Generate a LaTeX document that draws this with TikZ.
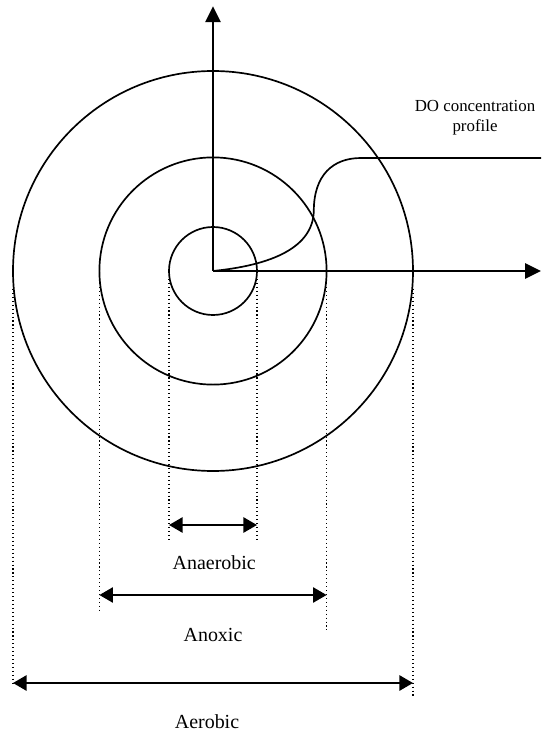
\documentclass[tikz,border=0pt]{standalone}
\usepackage{fontspec}
\setmainfont{Liberation Serif}
\usetikzlibrary{arrows.meta}
\tikzset{
	ring/.style={line width=1.2pt},
	axis/.style={line width=1.5pt, -{Triangle[length=4mm,width=3.8mm]}},
	zone/.style={line width=1.5pt, {Triangle[length=3.4mm,width=3.8mm]}-{Triangle[length=3.4mm,width=3.8mm]}},
	guide/.style={dotted, line width=0.8pt},
	lbl/.style={font=\fontsize{14.2}{17}\selectfont}
}
\begin{document}
\begin{tikzpicture}
		\useasboundingbox (-5.325,-11.525) rectangle (8.225,6.775);
		\coordinate (o) at (0,0);
		% floc layers
		\draw[ring] (o) circle (5);
		\draw[ring] (o) circle (2.84);
		\draw[ring] (o) circle (1.1);
		% axes
		\coordinate (ytop) at (0,6.62);
		\coordinate (xend) at (8.2,0);
		\draw[axis] (o) -- (ytop);
		\draw[axis] (o) -- (xend);
		% DO profile
		\coordinate (bend) at (2.52,1.5);
		\coordinate (knee) at (3.7,2.825);
		\coordinate (pend) at (8.2,2.825);
		\draw[ring] (o) .. controls (1.5,0.15) and (2.5,0.6) .. (bend) .. controls (2.52,2.4) and (3,2.825) .. (knee) -- (pend);
		\node[align=center, font=\fontsize{12}{14.2}\selectfont] (doprof) at (6.55,3.83) {DO concentration\\profile};
		%
		\foreach \r/\lft/\rgt/\ya/\top/\name in {1.1/-6.775/-6.775/-6.35/-0.2/anaer, 2.84/-8.525/-8.975/-8.1/-0.3/anox, 5/-10.3/-10.675/-10.3/-0.45/aer}{
			\draw[guide] (-\r,\top) -- (-\r,\lft);
			\draw[guide] (\r,\top) -- (\r,\rgt);
			\coordinate (\name l) at (-\r,\ya);
			\coordinate (\name r) at (\r,\ya);
			\draw[zone] (\name l) -- (\name r);
		}
		\node[lbl] (anaerobic) at (0.03,-7.3) {Anaerobic};
		\node[lbl] (anoxic) at (0,-9.1) {Anoxic};
		\node[lbl] (aerobic) at (-0.15,-11.275) {Aerobic};
	\end{tikzpicture}
\end{document}
